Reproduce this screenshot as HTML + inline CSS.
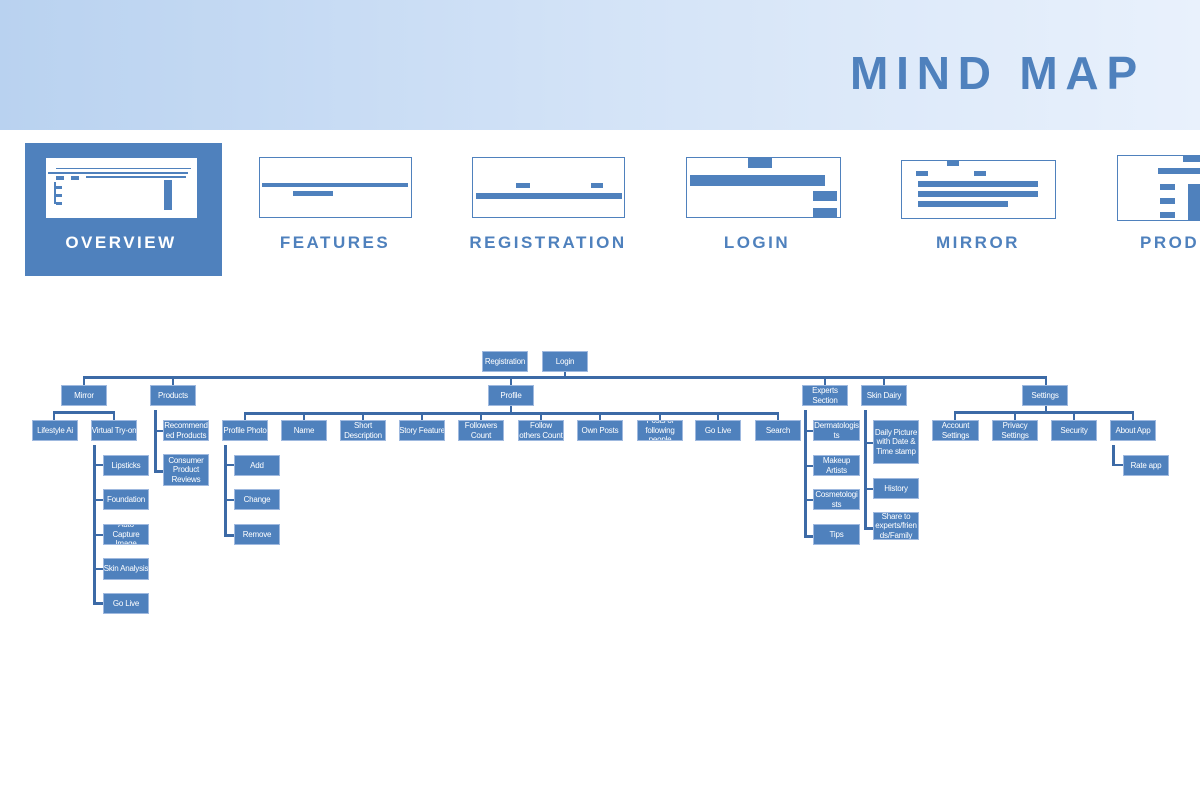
<!DOCTYPE html>
<html><head><meta charset="utf-8"><style>
*{margin:0;padding:0;box-sizing:border-box}
body{width:1200px;height:800px;background:#fff;position:relative;overflow:hidden;font-family:"Liberation Sans",sans-serif}
.hdr{position:absolute;left:0;top:0;width:1200px;height:130px;background:linear-gradient(90deg,#b9d2f0 0%,#d3e3f7 50%,#e9f1fc 100%)}
.title{position:absolute;left:850px;top:46px;font-size:46px;font-weight:bold;color:#4f81bd;letter-spacing:7.8px;white-space:nowrap}
.tab{position:absolute;top:243px;transform:translate(-50%,-50%);font-size:17px;font-weight:bold;letter-spacing:2.5px;color:#4f81bd;white-space:nowrap}
.th{position:absolute;border:1.5px solid #4f81bd;background:#fff;overflow:hidden}
.m{position:absolute;background:#4f81bd}
.b{position:absolute;background:#4f81bd;border:1px solid #9fb9df;color:#fff;font-size:8px;letter-spacing:-0.2px;display:flex;align-items:center;justify-content:center;text-align:center;line-height:9.5px;overflow:hidden;overflow-wrap:anywhere}
.n{white-space:nowrap}
.l{position:absolute;background:#3c6aa6}
</style></head><body>
<div class="hdr"></div>
<div class="title">MIND MAP</div>

<div style="position:absolute;left:25px;top:143px;width:197px;height:133px;background:#4f81bd"></div>
<div style="position:absolute;left:46px;top:158px;width:151px;height:60px;background:#fff">
 <div class="m" style="left:10px;top:10px;width:135px;height:1px"></div>
 <div class="m" style="left:2px;top:14px;width:140px;height:2px"></div>
 <div class="m" style="left:10px;top:18px;width:8px;height:4px"></div>
 <div class="m" style="left:25px;top:18px;width:8px;height:4px"></div>
 <div class="m" style="left:40px;top:18px;width:100px;height:2px"></div>
 <div class="m" style="left:8px;top:24px;width:2px;height:22px"></div>
 <div class="m" style="left:10px;top:28px;width:6px;height:3px"></div>
 <div class="m" style="left:10px;top:36px;width:6px;height:3px"></div>
 <div class="m" style="left:10px;top:44px;width:6px;height:3px"></div>
 <div class="m" style="left:118px;top:22px;width:8px;height:30px"></div>
</div>
<div class="tab" style="left:121px;color:#fff">OVERVIEW</div>

<div class="th" style="left:259px;top:157px;width:153px;height:61px">
 <div class="m" style="left:2px;top:25px;width:146px;height:4px"></div>
 <div class="m" style="left:33px;top:33px;width:40px;height:5px"></div>
</div>
<div class="tab" style="left:335px">FEATURES</div>

<div class="th" style="left:472px;top:157px;width:153px;height:61px">
 <div class="m" style="left:43px;top:25px;width:14px;height:5px"></div>
 <div class="m" style="left:118px;top:25px;width:12px;height:5px"></div>
 <div class="m" style="left:3px;top:35px;width:146px;height:6px"></div>
</div>
<div class="tab" style="left:548px">REGISTRATION</div>

<div class="th" style="left:686px;top:157px;width:155px;height:61px">
 <div class="m" style="left:61px;top:0px;width:24px;height:10px"></div>
 <div class="m" style="left:3px;top:17px;width:135px;height:11px"></div>
 <div class="m" style="left:126px;top:33px;width:24px;height:10px"></div>
 <div class="m" style="left:126px;top:50px;width:24px;height:10px"></div>
</div>
<div class="tab" style="left:757px">LOGIN</div>

<div class="th" style="left:901px;top:160px;width:155px;height:59px">
 <div class="m" style="left:45px;top:0px;width:12px;height:5px"></div>
 <div class="m" style="left:14px;top:10px;width:12px;height:5px"></div>
 <div class="m" style="left:72px;top:10px;width:12px;height:5px"></div>
 <div class="m" style="left:16px;top:20px;width:120px;height:6px"></div>
 <div class="m" style="left:16px;top:30px;width:120px;height:6px"></div>
 <div class="m" style="left:16px;top:40px;width:90px;height:6px"></div>
</div>
<div class="tab" style="left:978px">MIRROR</div>

<div class="th" style="left:1117px;top:155px;width:90px;height:66px">
 <div class="m" style="left:65px;top:0px;width:25px;height:6px"></div>
 <div class="m" style="left:40px;top:12px;width:50px;height:6px"></div>
 <div class="m" style="left:42px;top:28px;width:15px;height:6px"></div>
 <div class="m" style="left:42px;top:42px;width:15px;height:6px"></div>
 <div class="m" style="left:42px;top:56px;width:15px;height:6px"></div>
 <div class="m" style="left:70px;top:28px;width:20px;height:36px"></div>
</div>
<div class="tab" style="left:1140px;transform:translate(0,-50%)">PRODUCTS</div>

<!-- connectors -->
<div class="l" style="left:83px;top:376px;width:964px;height:3px"></div>
<div class="l" style="left:564px;top:372px;width:2px;height:5px"></div>
<div class="l" style="left:83px;top:376px;width:2px;height:9px"></div>
<div class="l" style="left:172px;top:376px;width:2px;height:9px"></div>
<div class="l" style="left:510px;top:376px;width:2px;height:9px"></div>
<div class="l" style="left:824px;top:376px;width:2px;height:9px"></div>
<div class="l" style="left:883px;top:376px;width:2px;height:9px"></div>
<div class="l" style="left:1045px;top:376px;width:2px;height:9px"></div>
<div class="l" style="left:53px;top:411px;width:62px;height:3px"></div>
<div class="l" style="left:53px;top:411px;width:2px;height:9px"></div>
<div class="l" style="left:113px;top:411px;width:2px;height:9px"></div>
<div class="l" style="left:93px;top:445px;width:3px;height:160px"></div>
<div class="l" style="left:93px;top:464px;width:10px;height:2px"></div>
<div class="l" style="left:93px;top:499px;width:10px;height:2px"></div>
<div class="l" style="left:93px;top:534px;width:10px;height:2px"></div>
<div class="l" style="left:93px;top:568px;width:10px;height:2px"></div>
<div class="l" style="left:93px;top:602px;width:10px;height:3px"></div>
<div class="l" style="left:154px;top:410px;width:3px;height:63px"></div>
<div class="l" style="left:154px;top:430px;width:9px;height:2px"></div>
<div class="l" style="left:154px;top:470px;width:9px;height:3px"></div>
<div class="l" style="left:244px;top:412px;width:535px;height:3px"></div>
<div class="l" style="left:244px;top:412px;width:2px;height:8px"></div>
<div class="l" style="left:303px;top:412px;width:2px;height:8px"></div>
<div class="l" style="left:362px;top:412px;width:2px;height:8px"></div>
<div class="l" style="left:421px;top:412px;width:2px;height:8px"></div>
<div class="l" style="left:480px;top:412px;width:2px;height:8px"></div>
<div class="l" style="left:540px;top:412px;width:2px;height:8px"></div>
<div class="l" style="left:599px;top:412px;width:2px;height:8px"></div>
<div class="l" style="left:659px;top:412px;width:2px;height:8px"></div>
<div class="l" style="left:717px;top:412px;width:2px;height:8px"></div>
<div class="l" style="left:777px;top:412px;width:2px;height:8px"></div>
<div class="l" style="left:510px;top:406px;width:2px;height:7px"></div>
<div class="l" style="left:224px;top:445px;width:3px;height:92px"></div>
<div class="l" style="left:224px;top:464px;width:10px;height:2px"></div>
<div class="l" style="left:224px;top:499px;width:10px;height:2px"></div>
<div class="l" style="left:224px;top:534px;width:10px;height:3px"></div>
<div class="l" style="left:804px;top:410px;width:3px;height:128px"></div>
<div class="l" style="left:804px;top:430px;width:9px;height:2px"></div>
<div class="l" style="left:804px;top:465px;width:9px;height:2px"></div>
<div class="l" style="left:804px;top:499px;width:9px;height:2px"></div>
<div class="l" style="left:804px;top:535px;width:9px;height:3px"></div>
<div class="l" style="left:864px;top:410px;width:3px;height:120px"></div>
<div class="l" style="left:864px;top:442px;width:9px;height:2px"></div>
<div class="l" style="left:864px;top:488px;width:9px;height:2px"></div>
<div class="l" style="left:864px;top:527px;width:9px;height:3px"></div>
<div class="l" style="left:954px;top:411px;width:180px;height:3px"></div>
<div class="l" style="left:1045px;top:406px;width:2px;height:6px"></div>
<div class="l" style="left:954px;top:411px;width:2px;height:9px"></div>
<div class="l" style="left:1014px;top:411px;width:2px;height:9px"></div>
<div class="l" style="left:1073px;top:411px;width:2px;height:9px"></div>
<div class="l" style="left:1132px;top:411px;width:2px;height:9px"></div>
<div class="l" style="left:1112px;top:445px;width:3px;height:21px"></div>
<div class="l" style="left:1112px;top:464px;width:11px;height:2px"></div>

<!-- boxes -->
<div class="b n" style="left:482px;top:351px;width:46px;height:21px">Registration</div>
<div class="b" style="left:542px;top:351px;width:46px;height:21px">Login</div>
<div class="b" style="left:61px;top:385px;width:46px;height:21px">Mirror</div>
<div class="b" style="left:150px;top:385px;width:46px;height:21px">Products</div>
<div class="b" style="left:488px;top:385px;width:46px;height:21px">Profile</div>
<div class="b" style="left:802px;top:385px;width:46px;height:21px">Experts Section</div>
<div class="b" style="left:861px;top:385px;width:46px;height:21px">Skin Dairy</div>
<div class="b" style="left:1022px;top:385px;width:46px;height:21px">Settings</div>

<div class="b n" style="left:32px;top:420px;width:46px;height:21px">Lifestyle Ai</div>
<div class="b n" style="left:91px;top:420px;width:46px;height:21px">Virtual Try-on</div>
<div class="b" style="left:103px;top:455px;width:46px;height:21px">Lipsticks</div>
<div class="b" style="left:103px;top:489px;width:46px;height:21px">Foundation</div>
<div class="b" style="left:103px;top:524px;width:46px;height:21px">Auto Capture Image</div>
<div class="b n" style="left:103px;top:558px;width:46px;height:22px">Skin Analysis</div>
<div class="b" style="left:103px;top:593px;width:46px;height:21px">Go Live</div>
<div class="b" style="left:163px;top:420px;width:46px;height:21px">Recommended Products</div>
<div class="b" style="left:163px;top:454px;width:46px;height:32px">Consumer Product Reviews</div>

<div class="b n" style="left:222px;top:420px;width:46px;height:21px">Profile Photo</div>
<div class="b" style="left:281px;top:420px;width:46px;height:21px">Name</div>
<div class="b" style="left:340px;top:420px;width:46px;height:21px">Short Description</div>
<div class="b n" style="left:399px;top:420px;width:46px;height:21px">Story Feature</div>
<div class="b" style="left:458px;top:420px;width:46px;height:21px">Followers Count</div>
<div class="b" style="left:518px;top:420px;width:46px;height:21px">Follow others Count</div>
<div class="b n" style="left:577px;top:420px;width:46px;height:21px">Own Posts</div>
<div class="b" style="left:637px;top:420px;width:46px;height:21px">Posts of following people</div>
<div class="b" style="left:695px;top:420px;width:46px;height:21px">Go Live</div>
<div class="b" style="left:755px;top:420px;width:46px;height:21px">Search</div>
<div class="b" style="left:234px;top:455px;width:46px;height:21px">Add</div>
<div class="b" style="left:234px;top:489px;width:46px;height:21px">Change</div>
<div class="b" style="left:234px;top:524px;width:46px;height:21px">Remove</div>

<div class="b" style="left:813px;top:420px;width:47px;height:21px">Dermatologists</div>
<div class="b" style="left:813px;top:455px;width:47px;height:21px">Makeup Artists</div>
<div class="b" style="left:813px;top:489px;width:47px;height:21px">Cosmetologists</div>
<div class="b" style="left:813px;top:524px;width:47px;height:21px">Tips</div>
<div class="b" style="left:873px;top:420px;width:46px;height:44px">Daily Picture with Date &amp; Time stamp</div>
<div class="b" style="left:873px;top:478px;width:46px;height:21px">History</div>
<div class="b" style="left:873px;top:512px;width:46px;height:28px">Share to experts/friends/Family</div>

<div class="b" style="left:932px;top:420px;width:47px;height:21px">Account Settings</div>
<div class="b" style="left:992px;top:420px;width:46px;height:21px">Privacy Settings</div>
<div class="b" style="left:1051px;top:420px;width:46px;height:21px">Security</div>
<div class="b n" style="left:1110px;top:420px;width:46px;height:21px">About App</div>
<div class="b" style="left:1123px;top:455px;width:46px;height:21px">Rate app</div>
</body></html>
